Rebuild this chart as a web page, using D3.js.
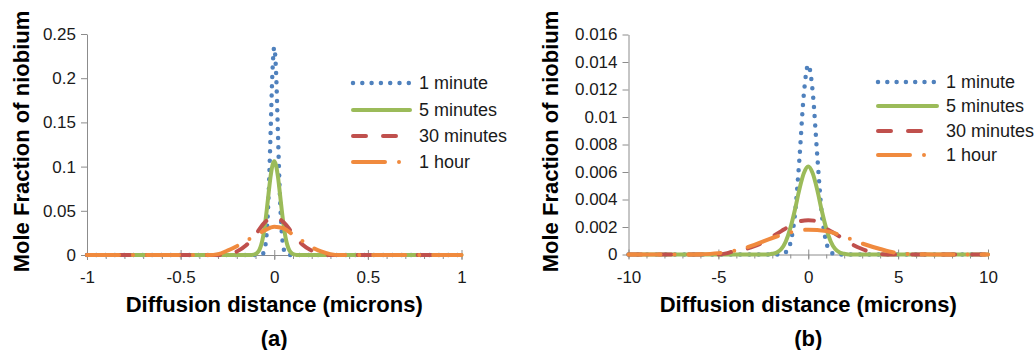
<!DOCTYPE html>
<html>
<head>
<meta charset="utf-8">
<script src="https://cdn.jsdelivr.net/npm/d3@7"></script>
<style>
  body { margin: 0; background: #fff; }
  svg { font-family: "Liberation Sans", Arial, sans-serif; }
</style>
</head>
<body>
<div id="chart"></div>
<script>
// series names shown in the legend
const seriesNames = ["1 minute", "5 minutes", "30 minutes", "1 hour"];

// panel (a): [distance, mole fraction]
const a1min = [[-1,0],[-0.1,0],[-0.08,0.0002],[-0.06,0.0016],[-0.05,0.0074],[-0.04,0.026],[-0.03,0.068],[-0.02,0.135],[-0.01,0.205],[0,0.235],
  [0.01,0.205],[0.02,0.135],[0.03,0.068],[0.04,0.026],[0.05,0.0074],[0.06,0.0016],[0.08,0.0002],[0.1,0],[1,0]];
const a5min = [[-1,0],[-0.14,0],[-0.12,0.0001],[-0.1,0.0011],[-0.09,0.0026],[-0.08,0.0056],[-0.07,0.0112],[-0.06,0.0203],[-0.05,0.0336],[-0.04,0.0508],[-0.03,0.0701],[-0.02,0.0882],[-0.01,0.101],[0,0.106],
  [0.01,0.101],[0.02,0.0882],[0.03,0.0701],[0.04,0.0508],[0.05,0.0336],[0.06,0.0203],[0.07,0.0112],[0.08,0.0056],[0.09,0.0026],[0.1,0.0011],[0.12,0.0001],[0.14,0],[1,0]];
const a30min = [[-1,0],[-0.3,0],[-0.25,0.001],[-0.2,0.004],[-0.15,0.011],[-0.1,0.023],[-0.05,0.037],[0,0.043],[0.05,0.037],[0.1,0.024],[0.15,0.012],[0.2,0.005],[0.25,0.001],[0.3,0],[1,0]];
const a1hour = [[-1,0],[-0.35,0],[-0.3,0.001],[-0.25,0.005],[-0.2,0.01],[-0.15,0.016],[-0.1,0.022],[-0.05,0.028],[0,0.032],[0.05,0.03],[0.1,0.023],[0.15,0.016],[0.2,0.009],[0.25,0.004],[0.3,0.001],[0.35,0],[1,0]];

// panel (b)
const b1min = [[-10,0],[-2,0],[-1.5,0.00002],[-1.25,0.00016],[-1,0.0008],[-0.75,0.0028],[-0.5,0.0068],[-0.25,0.0116],[0,0.0138],
  [0.25,0.0118],[0.5,0.0072],[0.75,0.003],[1,0.0009],[1.25,0.00018],[1.5,0.00002],[2,0],[10,0]];
const b5min = [[-10,0],[-2.25,0],[-2,0.00005],[-1.75,0.00015],[-1.5,0.0004],[-1.25,0.00095],[-1,0.0019],[-0.75,0.0032],[-0.5,0.0047],[-0.25,0.0059],[0,0.0064],
  [0.25,0.0059],[0.5,0.0047],[0.75,0.0032],[1,0.0019],[1.25,0.00095],[1.5,0.0004],[1.75,0.00015],[2,0.00005],[2.25,0],[10,0]];
const b30min = [[-10,0],[-5,0],[-4.5,0.0001],[-4,0.0003],[-3.5,0.0004],[-3,0.0006],[-2.5,0.0009],[-2,0.0013],[-1.5,0.0017],[-1,0.0021],[-0.5,0.0024],[0,0.0025],
  [0.5,0.0024],[1,0.0019],[1.5,0.0015],[2,0.0011],[2.5,0.0007],[3,0.0004],[3.5,0.00015],[4,0.00003],[4.5,0],[10,0]];
const b1hour = [[-10,0],[-7,0],[-6,0.00002],[-5,0.0001],[-4,0.0003],[-3,0.0007],[-2,0.0012],[-1,0.0016],[0,0.0018],[1,0.0017],[2,0.0013],[3,0.0008],[4,0.0004],[5,0.0001],[6,0.00002],[7,0],[10,0]];

// tick values
const aXTicks = [-1, -0.5, 0, 0.5, 1];
const aXMinor = d3.range(-10, 11).map(d => d / 10);
const aYTicks = [0, 0.05, 0.1, 0.15, 0.2, 0.25];
const bXTicks = [-10, -5, 0, 5, 10];
const bXMinor = d3.range(-10, 11);
const bYTicks = [0, 0.002, 0.004, 0.006, 0.008, 0.01, 0.012, 0.014, 0.016];

const colors = ["#4f81bd", "#9bbb59", "#c0504d", "#f08a3e"];
const dashes = ["0 9.3", null, "13 17", "32 14 0 14"];
const widths = [4.5, 4, 4, 4];

const svg = d3.select("#chart").append("svg")
    .attr("width", 1036)
    .attr("height", 350);

const tickFont = 17;

function drawPanel(opt) {
    const x = d3.scaleLinear().domain(opt.xDomain).range([opt.left, opt.right]);
    const y = d3.scaleLinear().domain(opt.yDomain).range([opt.bottom, opt.top]);
    const g = svg.append("g");

    // minor x ticks
    g.append("g")
        .attr("transform", `translate(0,${opt.bottom})`)
        .call(d3.axisBottom(x).tickValues(opt.xMinor).tickSize(4).tickFormat(""))
        .call(a => a.select(".domain").remove())
        .call(a => a.selectAll("line").attr("stroke", "#8c8c8c"));

    // major x ticks + labels
    const xa = g.append("g")
        .attr("transform", `translate(0,${opt.bottom})`)
        .call(d3.axisBottom(x).tickValues(opt.xTicks).tickSizeInner(5).tickSizeOuter(0).tickPadding(11).tickFormat(d => String(d)))
        .attr("font-size", tickFont)
        .attr("font-family", null);
    xa.select(".domain").attr("stroke", "#8c8c8c");
    xa.selectAll("line").attr("stroke", "#8c8c8c").attr("y1", -5);
    xa.selectAll("text").attr("fill", "#1a1a1a");

    // y axis
    const ya = g.append("g")
        .attr("transform", `translate(${opt.left},0)`)
        .call(d3.axisLeft(y).tickValues(opt.yTicks).tickSizeInner(6).tickSizeOuter(0).tickPadding(5).tickFormat(d => String(d)))
        .attr("font-size", tickFont)
        .attr("font-family", null);
    ya.select(".domain").attr("stroke", "#8c8c8c");
    ya.selectAll("line").attr("stroke", "#8c8c8c");
    ya.selectAll("text").attr("fill", "#1a1a1a");

    // curves
    const line = d3.line()
        .x(d => x(d[0]))
        .y(d => y(d[1]))
        .curve(d3.curveMonotoneX);

    opt.series.forEach((s, i) => {
        g.append("path")
            .datum(s)
            .attr("d", line)
            .attr("fill", "none")
            .attr("stroke", colors[i])
            .attr("stroke-width", widths[i])
            .attr("stroke-linecap", "round")
            .attr("stroke-linejoin", "round")
            .attr("stroke-dasharray", dashes[i]);
    });

    // legend
    const lg = g.append("g");
    seriesNames.forEach((name, i) => {
        const ly = opt.legendY[i];
        lg.append("line")
            .attr("x1", opt.legendX)
            .attr("x2", opt.legendX + opt.legendLen)
            .attr("y1", ly).attr("y2", ly)
            .attr("stroke", colors[i])
            .attr("stroke-width", widths[i])
            .attr("stroke-linecap", "round")
            .attr("stroke-dasharray", dashes[i]);
        lg.append("text")
            .attr("x", opt.legendX + opt.legendLen + 9)
            .attr("y", ly)
            .attr("dy", "0.35em")
            .attr("font-size", 18)
            .attr("fill", "#1a1a1a")
            .text(name);
    });

    // titles
    g.append("text")
        .attr("x", x(0))
        .attr("y", 304)
        .attr("dy", "0.35em")
        .attr("text-anchor", "middle")
        .attr("font-size", 22)
        .attr("font-weight", "bold")
        .text("Diffusion distance (microns)");

    g.append("text")
        .attr("transform", `translate(${opt.yTitleX},${(opt.top + opt.bottom) / 2 - 3}) rotate(-90)`)
        .attr("dy", "0.35em")
        .attr("text-anchor", "middle")
        .attr("font-size", 22)
        .attr("font-weight", "bold")
        .text("Mole Fraction of niobium");

    g.append("text")
        .attr("x", x(0))
        .attr("y", 338)
        .attr("dy", "0.35em")
        .attr("text-anchor", "middle")
        .attr("font-size", 22)
        .attr("font-weight", "bold")
        .text(opt.label);
}

drawPanel({
    xDomain: [-1, 1], yDomain: [0, 0.25],
    left: 87, right: 461.5, top: 34, bottom: 255,
    xTicks: aXTicks, xMinor: aXMinor, yTicks: aYTicks,
    series: [a1min, a5min, a30min, a1hour],
    legendX: 353, legendLen: 57, legendY: [83, 110, 136, 162],
    yTitleX: 21, label: "(a)"
});

drawPanel({
    xDomain: [-10, 10], yDomain: [0, 0.016],
    left: 628.5, right: 988, top: 34.5, bottom: 254.5,
    xTicks: bXTicks, xMinor: bXMinor, yTicks: bYTicks,
    series: [b1min, b5min, b30min, b1hour],
    legendX: 878, legendLen: 59, legendY: [82, 106, 131, 155],
    yTitleX: 550, label: "(b)"
});
</script>
</body>
</html>
